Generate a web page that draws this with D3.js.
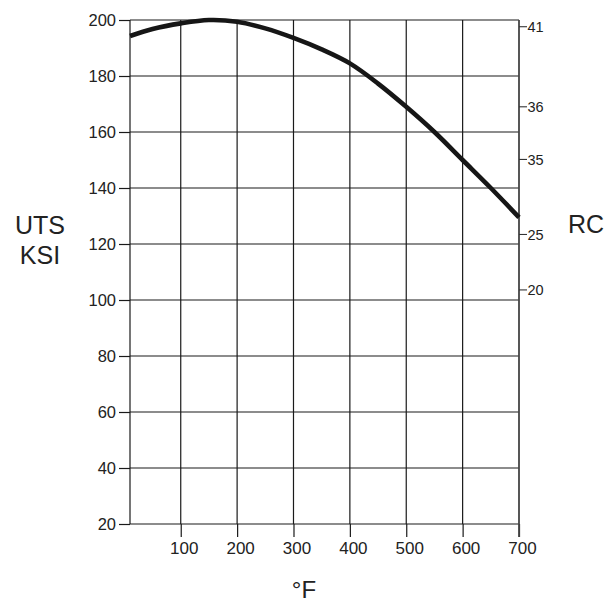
<!DOCTYPE html>
<html>
<head>
<meta charset="utf-8">
<script src="https://cdn.jsdelivr.net/npm/d3@7"></script>
<style>
body { margin:0; background:#fff; }
svg { font-family: "Liberation Sans", Arial, sans-serif; }
</style>
</head>
<body>
<svg id="chart" width="612" height="603"></svg>
<script>
// temperature (F) vs ultimate tensile strength (ksi)
const tempF = [10, 50, 100, 150, 200, 250, 300, 350, 400, 450, 500, 550, 600, 650, 700]
const utsKsi = [194.3, 196.8, 198.8, 200, 199.4, 197, 193.6, 189.5, 184.5, 177.3, 169, 160, 150, 140, 129.5]

const xTicks = [100, 200, 300, 400, 500, 600, 700]
const yTicks = [20, 40, 60, 80, 100, 120, 140, 160, 180, 200]
// rockwell C labels and the UTS level they sit at
const rcLabels = [41, 36, 35, 25, 20]
const rcAtUts = [197.6, 169, 150.2, 123.4, 103.6]

const svg = d3.select("#chart")
const pLeft = 130, pRight = 519, pTop = 20, pBottom = 524

const x = d3.scaleLinear().domain([10, 700]).range([pLeft, pRight])
const y = d3.scaleLinear().domain([20, 200]).range([pBottom, pTop])

// grid
svg.append("g").selectAll("line").data(yTicks).join("line")
    .attr("x1", pLeft).attr("x2", pRight)
    .attr("y1", d => y(d)).attr("y2", d => y(d))
    .attr("stroke", "#1a1a1a").attr("stroke-width", 1.2)

svg.append("g").selectAll("line").data(xTicks.slice(0, -1)).join("line")
    .attr("x1", d => x(d)).attr("x2", d => x(d))
    .attr("y1", pTop).attr("y2", pBottom)
    .attr("stroke", "#1a1a1a").attr("stroke-width", 1.2)

svg.append("line")
    .attr("x1", pLeft).attr("x2", pLeft).attr("y1", pTop).attr("y2", pBottom)
    .attr("stroke", "#1a1a1a").attr("stroke-width", 1.2)

// left axis
let gy = svg.append("g").attr("transform", `translate(${pLeft},0)`)
    .call(d3.axisLeft(y).tickValues(yTicks).tickSize(11).tickPadding(3))
gy.select(".domain").remove()
gy.selectAll("line").attr("stroke", "#1a1a1a").attr("stroke-width", 1.2)
gy.selectAll("text").attr("font-size", 16.5).attr("fill", "#222")
    .attr("font-family", "Liberation Sans, Arial, sans-serif")

// bottom axis
let gx = svg.append("g").attr("transform", `translate(0,${pBottom})`)
    .call(d3.axisBottom(x).tickValues(xTicks).tickSize(13).tickPadding(5))
gx.select(".domain").remove()
gx.selectAll("line").attr("stroke", "#1a1a1a").attr("stroke-width", 1.2)
gx.selectAll("text").attr("font-size", 17).attr("fill", "#222").attr("dx", 3)
    .attr("font-family", "Liberation Sans, Arial, sans-serif")

// right axis (rockwell C)
svg.append("line")
    .attr("x1", pRight).attr("x2", pRight).attr("y1", pTop).attr("y2", pBottom + 13)
    .attr("stroke", "#444").attr("stroke-width", 1.8)

let gr = svg.append("g").attr("transform", `translate(${pRight},0)`)
gr.selectAll("line").data(rcAtUts).join("line")
    .attr("x1", 0).attr("x2", 8)
    .attr("y1", d => y(d)).attr("y2", d => y(d))
    .attr("stroke", "#333").attr("stroke-width", 1.1)
gr.selectAll("text").data(rcLabels).join("text")
    .attr("x", 8.5).attr("y", (d, i) => y(rcAtUts[i]))
    .attr("dy", "0.36em")
    .attr("font-size", 14.5).attr("fill", "#222")
    .text(d => d)

// curve
const line = d3.line()
    .x(d => x(d[0])).y(d => y(d[1]))
    .curve(d3.curveCatmullRom)

svg.append("path")
    .datum(tempF.map((t, i) => [t, utsKsi[i]]))
    .attr("d", line)
    .attr("fill", "none")
    .attr("stroke", "#161616")
    .attr("stroke-width", 4.6)

// titles
svg.append("text").attr("x", 40).attr("y", 234).attr("text-anchor", "middle")
    .attr("font-size", 25).attr("fill", "#222").text("UTS")
svg.append("text").attr("x", 40).attr("y", 264).attr("text-anchor", "middle")
    .attr("font-size", 25).attr("fill", "#222").text("KSI")
svg.append("text").attr("x", 586).attr("y", 233).attr("text-anchor", "middle")
    .attr("font-size", 25).attr("fill", "#222").text("RC")
svg.append("text").attr("x", 304).attr("y", 598).attr("text-anchor", "middle")
    .attr("font-size", 24).attr("fill", "#222").text("°F")
</script>
</body>
</html>
